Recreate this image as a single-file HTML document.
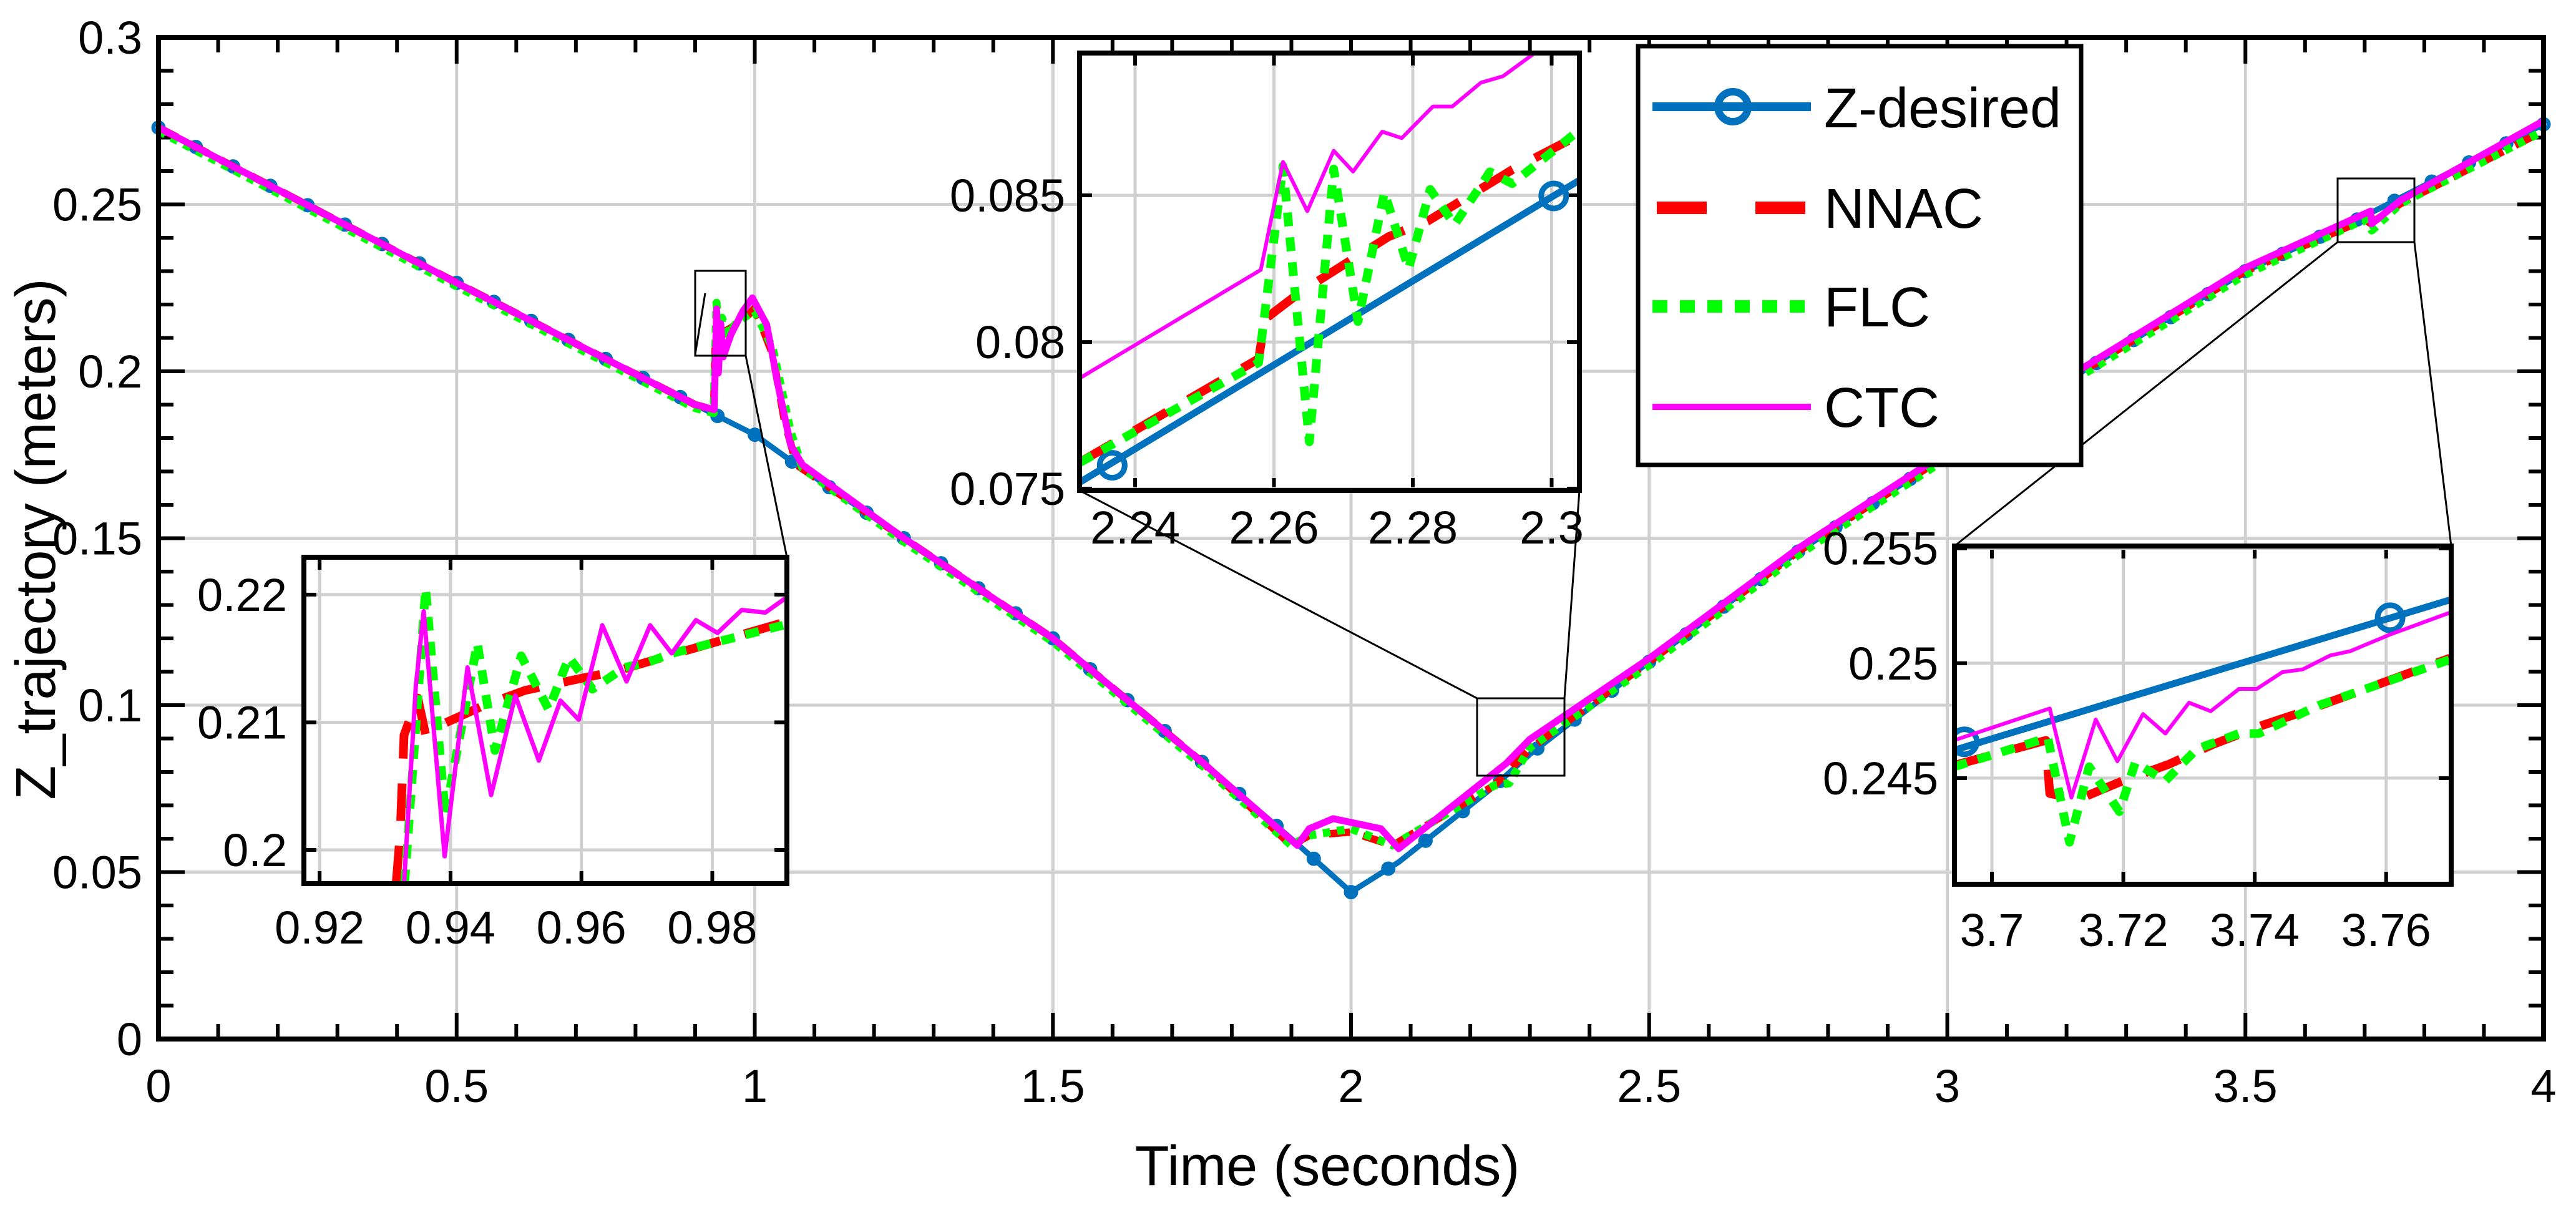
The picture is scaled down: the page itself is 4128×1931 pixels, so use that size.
<!DOCTYPE html>
<html><head><meta charset="utf-8"><style>
html,body{margin:0;padding:0;background:#fff;}
svg{display:block;font-family:"Liberation Sans",Arial,sans-serif;}
</style></head><body>
<svg id="chart" xmlns="http://www.w3.org/2000/svg" width="4128" height="1931" viewBox="0 0 4128 1931">
<rect x="0" y="0" width="4128" height="1931" fill="#fff"/>
<g id="main"></g>
<g id="conn"></g>
<g id="in1"></g>
<g id="in2"></g>
<g id="in3"></g>
<g id="legend">
  <rect x="2625" y="74" width="710" height="671" fill="#fff" stroke="#000" stroke-width="7"/>
  <g>
    <line x1="2648" y1="171" x2="2902" y2="171" stroke="#0072BD" stroke-width="14"/>
    <circle cx="2777" cy="171" r="24" fill="none" stroke="#0072BD" stroke-width="12"/>
    <text x="2923" y="204" font-size="90">Z-desired</text>
  </g>
  <g>
    <line x1="2655" y1="333" x2="2902" y2="333" stroke="#FF0000" stroke-width="20" stroke-dasharray="80 78"/>
    <text x="2923" y="365" font-size="90">NNAC</text>
  </g>
  <g>
    <line x1="2648" y1="491" x2="2902" y2="491" stroke="#00FF00" stroke-width="20" stroke-dasharray="24 20"/>
    <text x="2923" y="523" font-size="90">FLC</text>
  </g>
  <g>
    <line x1="2648" y1="652" x2="2902" y2="652" stroke="#FF00FF" stroke-width="10"/>
    <text x="2923" y="684" font-size="90">CTC</text>
  </g>
</g>
<text x="2127" y="1899" font-size="90" text-anchor="middle">Time (seconds)</text>
<text transform="translate(88,864) rotate(-90)" font-size="90" text-anchor="middle">Z_trajectory (meters)</text>
</svg>
<script>
// ---------- MAIN DATA ----------
const desiredT = [0,0.5,0.9,1.0,1.07,1.25,1.5,1.75,1.9,2.0,2.08,2.24,2.3,2.5,2.75,3.0,3.25,3.5,3.7,3.76,4.0];
const desiredV = [0.273,0.2265,0.190,0.181,0.172,0.150,0.120,0.083,0.060,0.044,0.053,0.0757,0.0853,0.113,0.146,0.175,0.2025,0.230,0.2465,0.252,0.274];
const nnacT = [0,0.5,0.9,0.931,0.934,0.94,0.96,0.99,1.0,1.03,1.05,1.07,1.25,1.5,1.75,1.9,1.93,2.0,2.07,2.24,2.3,2.5,2.75,3.0,3.25,3.5,3.7,3.71,3.76,4.0];
const nnacV = [0.273,0.2265,0.190,0.1885,0.209,0.211,0.213,0.217,0.219,0.205,0.185,0.172,0.150,0.120,0.083,0.058,0.061,0.062,0.058,0.0759,0.0869,0.113,0.146,0.175,0.2025,0.230,0.2455,0.2443,0.2502,0.272];
const flcT = [0,0.5,0.9,0.931,0.936,0.94,0.945,0.955,0.97,0.99,1.0,1.03,1.06,1.08,1.25,1.5,1.75,1.9,1.93,2.0,2.07,2.24,2.265,2.3,2.5,2.75,3.0,3.25,3.5,3.7,3.712,3.76,4.0];
const flcV = [0.272,0.2255,0.189,0.1875,0.2205,0.205,0.216,0.211,0.2147,0.217,0.218,0.207,0.182,0.171,0.149,0.119,0.082,0.058,0.061,0.063,0.058,0.0759,0.0766,0.0873,0.112,0.145,0.174,0.2015,0.229,0.2455,0.2422,0.2502,0.272];
const ctcT = [0,0.5,0.9,0.932,0.936,0.939,0.943,0.947,0.96,0.98,0.996,1.02,1.04,1.06,1.08,1.25,1.5,1.75,1.91,1.93,1.97,2.05,2.08,2.26,2.3,2.5,2.75,3.0,3.25,3.5,3.71,3.712,3.76,4.0];
const ctcV = [0.273,0.2265,0.190,0.1885,0.2187,0.1995,0.2143,0.2043,0.211,0.218,0.222,0.214,0.195,0.178,0.172,0.150,0.120,0.083,0.058,0.063,0.066,0.063,0.057,0.0825,0.0898,0.114,0.147,0.176,0.2035,0.231,0.248,0.2442,0.2512,0.275];
const mainXTicks = [0,0.5,1,1.5,2,2.5,3,3.5,4];
const mainXLabels = ["0","0.5","1","1.5","2","2.5","3","3.5","4"];
const mainYTicks = [0,0.05,0.1,0.15,0.2,0.25,0.3];
const mainYLabels = ["0","0.05","0.1","0.15","0.2","0.25","0.3"];
const markerStep = 0.0625;

// ---------- INSET 1 DATA ----------
const in1NnacT = [0.9317,0.9323,0.9329,0.9350,0.9362,0.9377,0.9450,0.9514,0.9596,0.9653,0.9738,0.9908];
const in1NnacV = [0.1974,0.2012,0.2090,0.2119,0.2090,0.2096,0.2113,0.2125,0.2134,0.2140,0.2153,0.2178];
const in1FlcT = [0.9330,0.9362,0.9392,0.9441,0.9468,0.9508,0.9550,0.9581,0.9617,0.9666,0.9702,0.9738,0.9908];
const in1FlcV = [0.1974,0.2205,0.2028,0.2162,0.2078,0.2152,0.2110,0.2151,0.2126,0.2143,0.2147,0.2154,0.2176];
const in1CtcT = [0.9329,0.9347,0.9359,0.9391,0.9426,0.9462,0.9499,0.9535,0.9568,0.9596,0.9632,0.9669,0.9705,0.9738,0.9775,0.9808,0.9845,0.9881,0.9911];
const in1CtcV = [0.1974,0.2128,0.2187,0.1995,0.2143,0.2043,0.2121,0.2070,0.2117,0.2102,0.2176,0.2132,0.2176,0.2154,0.2180,0.2170,0.2188,0.2186,0.2197];
const in1XTicks = [0.92,0.94,0.96,0.98];
const in1XLabels = ["0.92","0.94","0.96","0.98"];
const in1YTicks = [0.2,0.21,0.22];
const in1YLabels = ["0.2","0.21","0.22"];

// ---------- INSET 2 DATA ----------
const in2DesT = [2.2321,2.3044];
const in2DesV = [0.07523,0.08557];
const in2MarkT = [2.2367,2.3003];
const in2MarkV = [0.0758,0.08498];
const in2NnacT = [2.2321,2.2578,2.2587,2.2638,2.2692,2.2765,2.2822,2.2886,2.2943,2.3044];
const in2NnacV = [0.07591,0.07943,0.08078,0.0817,0.08251,0.08359,0.08413,0.08505,0.08587,0.08711];
const in2FlcT = [2.2321,2.2578,2.2613,2.2651,2.2686,2.2721,2.2759,2.2794,2.2825,2.2860,2.2911,2.2943,2.3044];
const in2FlcV = [0.0759,0.0793,0.0860,0.0766,0.0859,0.0807,0.0851,0.0825,0.0852,0.0840,0.0858,0.0854,0.0873];
const in2CtcT = [2.2321,2.2581,2.2613,2.2648,2.2686,2.2714,2.2756,2.2784,2.2829,2.2857,2.2898,2.2930,2.2975];
const in2CtcV = [0.07878,0.08246,0.08614,0.08446,0.08652,0.08581,0.08717,0.08695,0.08803,0.08803,0.08884,0.08906,0.08984];
const in2XTicks = [2.24,2.26,2.28,2.3];
const in2XLabels = ["2.24","2.26","2.28","2.3"];
const in2YTicks = [0.075,0.08,0.085];
const in2YLabels = ["0.075","0.08","0.085"];

// ---------- INSET 3 DATA ----------
const in3DesT = [3.6942,3.7699];
const in3DesV = [0.24621,0.25277];
const in3MarkT = [3.6958,3.7606];
const in3MarkV = [0.24658,0.25198];
const in3NnacT = [3.6942,3.7082,3.7088,3.7133,3.7194,3.7270,3.7336,3.7412,3.7476,3.7697];
const in3NnacV = [0.24555,0.24664,0.24433,0.24409,0.24482,0.24561,0.24646,0.24730,0.24791,0.25022];
const in3FlcT = [3.6942,3.7085,3.7118,3.7148,3.7194,3.7218,3.7264,3.7312,3.7376,3.7406,3.7497,3.7697];
const in3FlcV = [0.24549,0.24676,0.24221,0.24549,0.24354,0.24567,0.24488,0.24627,0.24694,0.24694,0.24816,0.25016];
const in3CtcT = [3.6942,3.7088,3.7121,3.7158,3.7191,3.7230,3.7264,3.7300,3.7333,3.7376,3.7403,3.7442,3.7473,3.7515,3.7545,3.7606,3.7699];
const in3CtcV = [0.24664,0.24803,0.24415,0.24755,0.24573,0.24779,0.24694,0.24828,0.24791,0.24888,0.24888,0.24961,0.24973,0.25034,0.25052,0.25125,0.25222];
const in3XTicks = [3.7,3.72,3.74,3.76];
const in3XLabels = ["3.7","3.72","3.74","3.76"];
const in3YTicks = [0.245,0.25,0.255];
const in3YLabels = ["0.245","0.25","0.255"];

const NS = "http://www.w3.org/2000/svg";
const FS = 74;
function mk(tag, attrs, parent){ const e=document.createElementNS(NS,tag); for(const k in attrs) e.setAttribute(k,attrs[k]); parent.appendChild(e); return e; }
function makeAxes(px0,px1,py0,py1,x0,x1,y0,y1){
  return { sx: v=>px0+(v-x0)/(x1-x0)*(px1-px0), sy: v=>py1-(v-y0)/(y1-y0)*(py1-py0), px0,px1,py0,py1 };
}
function interp(T,V,t){ for(let i=1;i<T.length;i++){ if(t<=T[i]){ const f=(t-T[i-1])/(T[i]-T[i-1]); return V[i-1]+f*(V[i]-V[i-1]); } } return V[V.length-1]; }
function poly(ax,T,V,style,parent,name){
  const pts=T.map((t,i)=>ax.sx(t).toFixed(1)+","+ax.sy(V[i]).toFixed(1)).join(" ");
  const p=mk("polyline",Object.assign({points:pts,fill:"none","stroke-linejoin":"round"},style),parent);
  
  
  return p;
}
function circ(ax,t,v,r,sw,parent){
  const c=mk("circle",{cx:ax.sx(t),cy:ax.sy(v),r:r,fill:"none",stroke:"#0072BD","stroke-width":sw},parent);
  
  
}

// ---------- MAIN AXES ----------
const main = document.getElementById("main");
const A = makeAxes(254,4076,60,1665,0,4,0,0.3);
mainXTicks.forEach((t,i)=>{
  if(i>0&&i<mainXTicks.length-1){ const g=mk("line",{x1:A.sx(t),x2:A.sx(t),y1:60,y2:1665,stroke:"#d0d0d0","stroke-width":5},main);
  
   }
  const l=mk("text",{x:A.sx(t),y:1766,"font-size":FS,"text-anchor":"middle"},main); l.textContent=mainXLabels[i];
  
  
});
mainYTicks.forEach((v,i)=>{
  if(i>0&&i<mainYTicks.length-1){ const g=mk("line",{x1:254,x2:4076,y1:A.sy(v),y2:A.sy(v),stroke:"#d0d0d0","stroke-width":5},main);
  
   }
  const l=mk("text",{x:228,y:A.sy(v)+26,"font-size":FS,"text-anchor":"end"},main); l.textContent=mainYLabels[i];
  
  
});
for(let k=0;k<=40;k++){ const t=k*0.1, x=A.sx(t), len=(k%5===0)?42:24;
  mk("line",{x1:x,x2:x,y1:1665,y2:1665-len,stroke:"#000","stroke-width":6},main);
  mk("line",{x1:x,x2:x,y1:60,y2:60+len,stroke:"#000","stroke-width":6},main); }
for(let k=0;k<=30;k++){ const y=A.sy(k*0.01), len=(k%5===0)?42:24;
  mk("line",{x1:254,x2:254+len,y1:y,y2:y,stroke:"#000","stroke-width":6},main);
  mk("line",{x1:4076,x2:4076-len,y1:y,y2:y,stroke:"#000","stroke-width":6},main); }
poly(A,desiredT,desiredV,{stroke:"#0072BD","stroke-width":9},main,"z-desired-line");
for(let t=0;t<=4.0001;t+=markerStep){ circ(A,t,interp(desiredT,desiredV,t),8,7,main); }
poly(A,nnacT,nnacV,{stroke:"#FF0000","stroke-width":12,"stroke-dasharray":"34 22"},main,"nnac-line");
poly(A,flcT,flcV,{stroke:"#00FF00","stroke-width":13,"stroke-dasharray":"12 11"},main,"flc-line");
poly(A,ctcT,ctcV,{stroke:"#FF00FF","stroke-width":11},main,"ctc-line");
const frame=mk("rect",{x:254,y:60,width:3822,height:1605,fill:"none",stroke:"#000","stroke-width":8},main);



// ---------- CONNECTORS & SOURCE RECTS ----------
const conn=document.getElementById("conn");
[[1114,434,81,136],[2367,1119,140,124],[3746,286,123,102]].forEach(r=>{
  const e=mk("rect",{x:r[0],y:r[1],width:r[2],height:r[3],fill:"none",stroke:"#000","stroke-width":3},conn);
  
  
});
[[1195,570,1261,893],[1130,470,1114,568],[2367,1119,1730,786],[2507,1119,2531,786],[3746,388,3132,875],[3869,388,3928,875]].forEach(c=>{
  const e=mk("line",{x1:c[0],y1:c[1],x2:c[2],y2:c[3],stroke:"#000","stroke-width":3},conn);
  
  
});

// ---------- INSETS ----------
function inset(id,box,xr,yr,xt,xl,yt,yl,labelRight,labelBase,series){
  const g=document.getElementById(id);
  const ax=makeAxes(box[0],box[1],box[2],box[3],xr[0],xr[1],yr[0],yr[1]);
  mk("rect",{x:box[0],y:box[2],width:box[1]-box[0],height:box[3]-box[2],fill:"#fff"},g);
  const cid="clip_"+id; const cp=mk("clipPath",{id:cid},g);
  mk("rect",{x:box[0],y:box[2],width:box[1]-box[0],height:box[3]-box[2]},cp);
  xt.forEach((t,i)=>{ const x=ax.sx(t);
    mk("line",{x1:x,x2:x,y1:box[2],y2:box[3],stroke:"#d0d0d0","stroke-width":5},g);
    mk("line",{x1:x,x2:x,y1:box[3],y2:box[3]-20,stroke:"#000","stroke-width":6},g);
    mk("line",{x1:x,x2:x,y1:box[2],y2:box[2]+20,stroke:"#000","stroke-width":6},g);
    const l=mk("text",{x:x,y:labelBase,"font-size":FS,"text-anchor":"middle"},g); l.textContent=xl[i];
    
    
  });
  yt.forEach((v,i)=>{ const y=ax.sy(v);
    mk("line",{x1:box[0],x2:box[1],y1:y,y2:y,stroke:"#d0d0d0","stroke-width":5},g);
    mk("line",{x1:box[0],x2:box[0]+20,y1:y,y2:y,stroke:"#000","stroke-width":6},g);
    mk("line",{x1:box[1],x2:box[1]-20,y1:y,y2:y,stroke:"#000","stroke-width":6},g);
    const l=mk("text",{x:labelRight,y:y+26,"font-size":FS,"text-anchor":"end"},g); l.textContent=yl[i];
    
    
  });
  const dg=mk("g",{"clip-path":"url(#"+cid+")"},g);
  series(ax,dg);
  mk("rect",{x:box[0],y:box[2],width:box[1]-box[0],height:box[3]-box[2],fill:"none",stroke:"#000","stroke-width":8},g);
}
inset("in1",[487,1261,893,1416],[0.9176,0.9914],[0.19736,0.22293],in1XTicks,in1XLabels,in1YTicks,in1YLabels,460,1512,(ax,g)=>{
  poly(ax,in1NnacT,in1NnacV,{stroke:"#FF0000","stroke-width":14,"stroke-dasharray":"60 40"},g,"inset1-nnac-line");
  poly(ax,in1FlcT,in1FlcV,{stroke:"#00FF00","stroke-width":14,"stroke-dasharray":"22 18"},g,"inset1-flc-line");
  poly(ax,in1CtcT,in1CtcV,{stroke:"#FF00FF","stroke-width":7},g,"inset1-ctc-line");
});
inset("in2",[1730,2531,85,786],[2.232,2.304],[0.07494,0.08985],in2XTicks,in2XLabels,in2YTicks,in2YLabels,1707,871,(ax,g)=>{
  poly(ax,in2DesT,in2DesV,{stroke:"#0072BD","stroke-width":11},g,"inset2-z-desired-line");
  in2MarkT.forEach((t,i)=>circ(ax,t,in2MarkV[i],20,9,g));
  poly(ax,in2NnacT,in2NnacV,{stroke:"#FF0000","stroke-width":14,"stroke-dasharray":"60 40"},g,"inset2-nnac-line");
  poly(ax,in2FlcT,in2FlcV,{stroke:"#00FF00","stroke-width":14,"stroke-dasharray":"22 18"},g,"inset2-flc-line");
  poly(ax,in2CtcT,in2CtcV,{stroke:"#FF00FF","stroke-width":6},g,"inset2-ctc-line");
});
inset("in3",[3132,3928,875,1417],[3.6943,3.7699],[0.24038,0.2551],in3XTicks,in3XLabels,in3YTicks,in3YLabels,3106,1516,(ax,g)=>{
  poly(ax,in3DesT,in3DesV,{stroke:"#0072BD","stroke-width":11},g,"inset3-z-desired-line");
  in3MarkT.forEach((t,i)=>circ(ax,t,in3MarkV[i],20,9,g));
  poly(ax,in3NnacT,in3NnacV,{stroke:"#FF0000","stroke-width":14,"stroke-dasharray":"60 40"},g,"inset3-nnac-line");
  poly(ax,in3FlcT,in3FlcV,{stroke:"#00FF00","stroke-width":14,"stroke-dasharray":"22 18"},g,"inset3-flc-line");
  poly(ax,in3CtcT,in3CtcV,{stroke:"#FF00FF","stroke-width":6},g,"inset3-ctc-line");
});
</script>
</body></html>
